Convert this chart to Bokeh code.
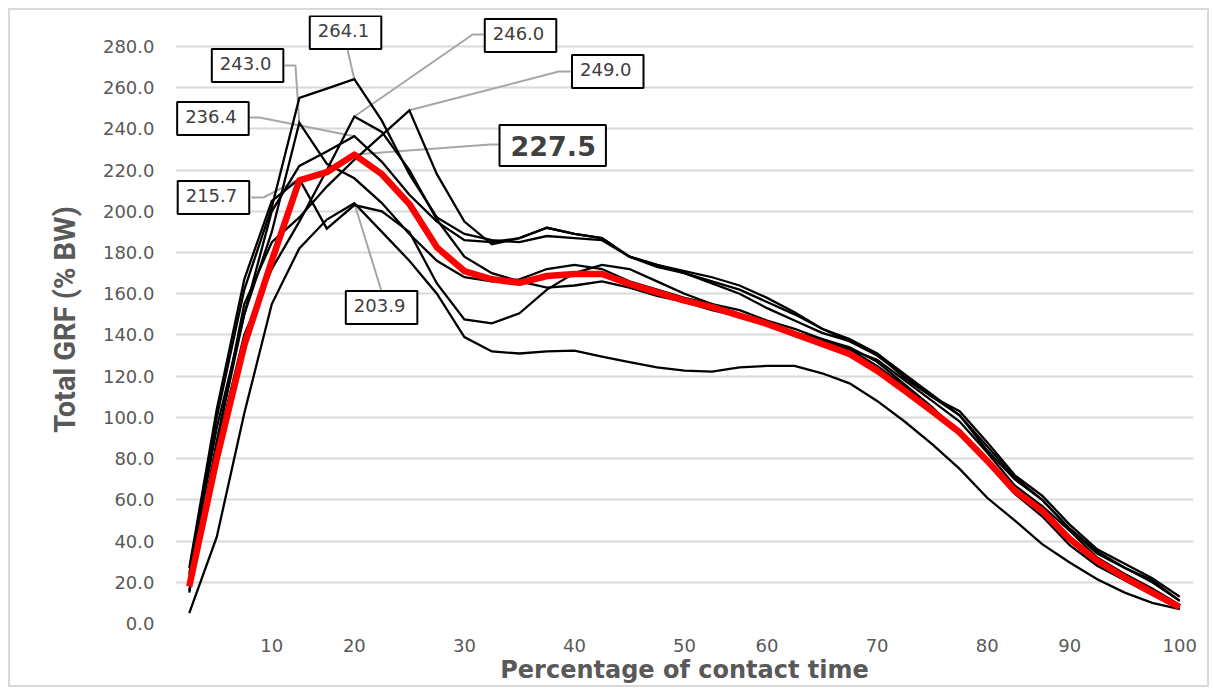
from bokeh.plotting import figure
from bokeh.models import Range1d, FixedTicker, Label, NumeralTickFormatter
from bokeh.embed import file_html
from bokeh.resources import INLINE

# ---------------- data ----------------
# 37 samples over the contact phase (category positions 0..36)
sample_idx = list(range(37))

x_tick_idx = [3, 6, 10, 14, 18, 21, 25, 29, 32, 36]
x_tick_labels = ["10", "20", "30", "40", "50", "60", "70", "80", "90", "100"]
y_ticks = list(range(0, 281, 20))

trial_264 = [24, 100, 162, 202, 255, 259.5, 264.1, 244, 218, 197, 189, 186, 185, 188, 187, 186, 178, 174,
             170, 165, 160, 153, 147, 141, 137, 130, 120, 110, 101, 84, 70, 60, 46, 35, 27, 20, 11]
trial_243 = [16, 88, 150, 190, 243.0, 223, 216, 204, 189, 176, 168, 166, 167, 172, 174, 172, 166, 162,
             158, 155, 152, 147, 143, 138, 133, 125, 115, 104, 93, 80, 65, 55, 42, 30, 22, 15, 8]
trial_246 = [20, 85, 140, 172, 195, 220, 246.0, 238.5, 220, 196, 178, 170, 166, 163, 164, 166, 163, 159,
             156, 152, 149, 145, 141, 138, 134, 127, 116, 105, 92, 78, 63, 52, 38, 28, 21, 14, 7]
trial_249 = [15, 88, 155, 185, 197, 212, 225, 237, 249.0, 218, 195, 184, 187, 192, 189, 187, 178, 173,
             170, 166, 162, 156, 150, 143, 138, 131, 119, 110, 103, 88, 72, 62, 48, 36, 29, 22, 13]
trial_236 = [22, 95, 150, 200, 222, 229, 236.4, 224, 208, 195, 186, 185, 187, 192, 189, 187, 178, 174,
             171, 168, 164, 158, 151, 143, 137, 131, 121, 111, 101, 86, 71, 60, 46, 34, 27, 21, 11]
trial_216 = [27, 104, 167, 205, 215.7, 191.6, 203, 200, 190, 165, 147.5, 145.6, 150.5, 162, 170, 174, 172, 166,
             160, 155, 150, 145, 141, 137, 133, 128, 118, 108, 98, 83, 67, 57, 45, 32, 24, 17, 9]
trial_204 = [5, 42, 102, 155, 182, 196, 203.9, 190, 176, 160, 139, 132, 131, 132, 132.4, 129.5, 126.8, 124.3,
             122.7, 122.2, 124.3, 125, 125, 121.4, 116.5, 108, 98, 87, 75, 61, 50, 38.5, 29.6, 21.5, 15, 10, 7]
mean_grf = [18, 80, 135, 176, 215, 219, 227.5, 218, 203.5, 182.5, 171, 167, 165.3, 168.6, 169.6, 169.6, 164.8, 160.7,
            156.7, 153.5, 149.4, 145.4, 140.5, 135.7, 130.8, 122.7, 113, 103, 92.7, 79, 64.4, 54.7, 41, 30.4, 22.3, 15, 8]

trials = [trial_264, trial_243, trial_246, trial_249, trial_236, trial_216, trial_204]

# ---------------- layout of the callouts (box centre, leader path start) ----------------
callouts = [
    (5.68, 286.8, [(5.75, 278.5)]),
    (2.12, 270.7, [(3.47, 270.7), (3.86, 270.7)]),
    (12.04, 285.3, [(10.70, 285.8), (10.30, 285.8)]),
    (15.21, 267.8, [(13.86, 267.8), (13.43, 267.8)]),
    (0.86, 245.0, [(2.20, 245.5), (2.55, 245.5)]),
    (0.88, 206.7, [(2.26, 206.7), (2.70, 206.7)]),
    (6.99, 153.3, [(6.99, 161.1)]),
]
mean_callout = (13.21, 231.9, [(11.28, 232.4), (10.95, 232.4)])

GRID = "#d9d9d9"
TXT = "#595959"
TICK_FONT = "DejaVu Sans"

p = figure(width=1201, height=679, output_backend="svg", toolbar_location=None,
           x_range=Range1d(-0.5, 36.5), y_range=Range1d(0, 295),
           min_border_left=165, min_border_right=18, min_border_top=5, min_border_bottom=66)
p.styles = {"border": "2px solid #d9d9d9", "margin": "8px 0px 0px 8px"}
p.outline_line_color = None
p.background_fill_color = "white"
p.border_fill_color = "white"

p.xgrid.visible = False
p.ygrid.grid_line_color = GRID
p.ygrid.grid_line_width = 2
p.ygrid.ticker = FixedTicker(ticks=y_ticks)

p.yaxis.ticker = FixedTicker(ticks=y_ticks)
p.yaxis.formatter = NumeralTickFormatter(format="0.0")
p.xaxis.ticker = FixedTicker(ticks=x_tick_idx)
p.xaxis.major_label_overrides = {i: t for i, t in zip(x_tick_idx, x_tick_labels)}

for ax in (p.xaxis[0], p.yaxis[0]):
    ax.axis_line_color = None
    ax.major_tick_line_color = None
    ax.minor_tick_line_color = None
    ax.major_tick_out = 0
    ax.major_tick_in = 0
    ax.major_label_text_font = TICK_FONT
    ax.major_label_text_font_size = "18px"
    ax.major_label_text_color = TXT
    ax.axis_label_text_color = TXT
    ax.axis_label_text_font_style = "bold"

p.yaxis.major_label_standoff = 21
p.xaxis.major_label_standoff = 15
p.xaxis.axis_label = "Percentage of contact time"
p.xaxis.axis_label_text_font = "DejaVu Sans"
p.xaxis.axis_label_text_font_size = "24px"
p.xaxis.axis_label_standoff = 1
p.yaxis.axis_label = "Total GRF (% BW)"
p.yaxis.axis_label_text_font = "Roboto"
p.yaxis.axis_label_text_font_size = "29px"
p.yaxis.axis_label_standoff = 18


def peak(series):
    m = max(series)
    return series.index(m), m


# leader lines
for s, (bx, by, pts) in zip(trials, callouts):
    i, m = peak(s)
    p.line([q[0] for q in pts] + [i], [q[1] for q in pts] + [m], line_color="#a6a6a6", line_width=2)
i, m = peak(mean_grf)
p.line([q[0] for q in mean_callout[2]] + [i], [q[1] for q in mean_callout[2]] + [m],
       line_color="#a6a6a6", line_width=2)

# curves
for s in trials:
    p.line(sample_idx, s, line_color="black", line_width=2.3, line_join="miter")
p.line(sample_idx, mean_grf, line_color="#ff0000", line_width=6.5, line_join="round")

# callout boxes
for s, (bx, by, pts) in zip(trials, callouts):
    i, m = peak(s)
    p.add_layout(Label(x=bx, y=by, text=f"{m:.1f}", text_align="center", text_baseline="middle",
                       text_font=TICK_FONT, text_font_size="18px", text_color="#404040",
                       background_fill_color="white", border_line_color="black", border_line_width=2,
                       padding=(8, 12, 8, 12)))
i, m = peak(mean_grf)
p.add_layout(Label(x=mean_callout[0], y=mean_callout[1], text=f"{m:.1f}", text_align="center",
                   text_baseline="middle", text_font=TICK_FONT, text_font_size="27px",
                   text_font_style="bold", text_color="#404040",
                   background_fill_color="white", border_line_color="black", border_line_width=2,
                   padding=(11, 10, 11, 10)))

open("out.html", "w").write(file_html(p, INLINE))
